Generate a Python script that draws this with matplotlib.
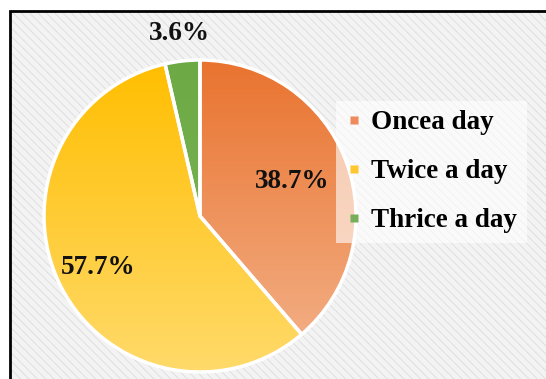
import matplotlib.pyplot as plt
import numpy as np
from matplotlib.patches import Rectangle

labels = ['Oncea day', 'Twice a day', 'Thrice a day']
shares = [38.7, 57.7, 3.6]
top_colors = ['#E9732F', '#FFBE00', '#6DAA45']
bottom_colors = ['#F4B48C', '#FFDA6A', '#7DB85A']
legend_colors = ['#EE8A5C', '#FFC72E', '#76AE5C']

plt.rcParams['font.family'] = ['Liberation Serif', 'DejaVu Serif']
plt.rcParams['hatch.linewidth'] = 0.6

W, H = 546, 379
fig = plt.figure(figsize=(W / 100, H / 100), dpi=100, facecolor='white')
ax = fig.add_axes([0, 0, 1, 1])

# hatched grey panel with the black frame
ax.add_patch(Rectangle((10, -5), W, H - 11 + 5, facecolor='#F3F3F3',
                       edgecolor='#DCDCDC', hatch='\\\\\\\\', lw=0, zorder=0))
ax.add_patch(Rectangle((10, -5), W, H - 11 + 5, facecolor='none',
                       edgecolor='black', lw=2, zorder=1))

cx, cy, r = 200, H - 216, 156
wedges, _ = ax.pie(shares, startangle=90, counterclock=False,
                   center=(cx, cy), radius=r, frame=True,
                   wedgeprops=dict(edgecolor='white', linewidth=2.5))
ax.set_xlim(0, W)
ax.set_ylim(0, H)
ax.set_aspect('equal')
ax.axis('off')


def hex_rgb(c):
    c = c.lstrip('#')
    return np.array([int(c[i:i + 2], 16) for i in (0, 2, 4)]) / 255.0


# vertical gradient in each slice
t = np.linspace(0, 1, 200)[:, None]
for w, c0, c1 in zip(wedges, top_colors, bottom_colors):
    a, b = hex_rgb(c0), hex_rgb(c1)
    grad = a[None, None, :] * (1 - t[:, :, None]) + b[None, None, :] * t[:, :, None]
    grad = np.repeat(grad, 2, axis=1)
    im = ax.imshow(grad, extent=(cx - r, cx + r, cy - r, cy + r),
                   origin='upper', aspect='auto', zorder=2)
    im.set_clip_path(w)
    w.set_facecolor('none')
    w.set_zorder(3)

# percentage labels at the middle of each slice
label_dist = [0.63, 0.73, 1.18]
for w, v, d in zip(wedges, shares, label_dist):
    mid = np.deg2rad((w.theta1 + w.theta2) / 2)
    ax.text(cx + d * r * np.cos(mid), cy + d * r * np.sin(mid), f'{v}%',
            ha='center', va='center', fontsize=19.5, fontweight='bold',
            color='#111111', zorder=5)

handles = [plt.Line2D([], [], marker='s', ls='none', markersize=6,
                      markerfacecolor=c, markeredgecolor='none')
           for c in legend_colors]
leg = ax.legend(handles, labels, loc='upper left',
                bbox_to_anchor=(336 / W, 1 - 101 / H),
                prop=dict(family='Liberation Serif', weight='bold', size=19.5),
                frameon=True, facecolor='white', framealpha=0.6,
                edgecolor='none', fancybox=False, handlelength=0.6,
                handletextpad=0.35, labelspacing=0.88, borderpad=0.35,
                borderaxespad=0, handleheight=0.7)
leg.set_zorder(4)

fig.savefig('out.png', dpi=100, facecolor='white')
